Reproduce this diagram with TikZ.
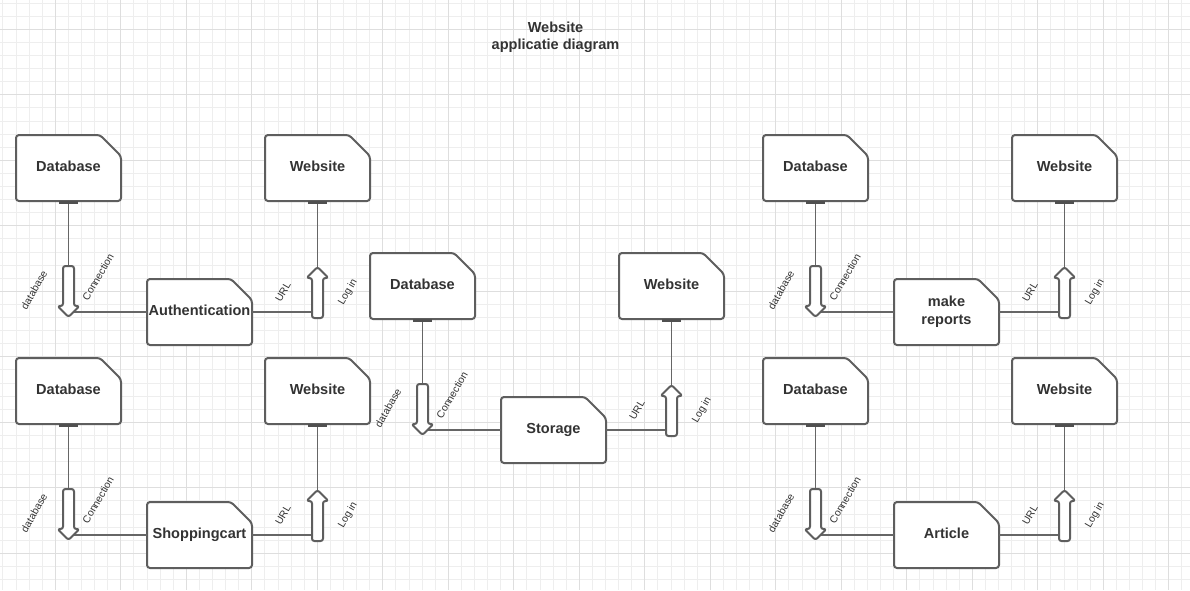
\documentclass[tikz,border=0pt]{standalone}
\usepackage{fontspec}
\setmainfont{Liberation Sans}
\definecolor{txt}{HTML}{333333}
\definecolor{bord}{HTML}{5E5E5E}
\definecolor{lin}{HTML}{666666}
\definecolor{gminor}{HTML}{EEEEEE}
\definecolor{gmajor}{HTML}{DEDEDE}
\tikzset{
  gridminor/.style={draw=gminor,line width=0.75pt},
  gridmajor/.style={draw=gmajor,line width=0.75pt},
  cardline/.style={draw=bord,fill=white,line width=1.5pt,rounded corners=2.25pt,line join=round},
  cardtext/.style={inner sep=0pt,minimum width=78.75pt,minimum height=49.5pt,align=center,text=txt,
    font=\fontsize{10.9}{13.2}\selectfont\bfseries},
  conn/.style={draw=lin,line width=1.1pt},
  stub/.style={draw=bord!85!black,line width=2pt},
  barrow/.style={draw=bord,fill=white,line width=1.5pt,rounded corners=1.8pt,line join=round},
  lbl/.style={inner sep=0pt,rotate=60,text=txt,font=\fontsize{7.7}{9}\selectfont},
  ttl/.style={align=center,text=txt,font=\fontsize{10.9}{12.75}\selectfont\bfseries}
}
\newcommand\card[4]{%
  \draw[cardline,shift={(#2,#3)}] (-52.5,33) -- (-52.5,-33) -- (31.5,-33) -- (52.5,-12) -- (52.5,33) -- cycle;
  \node[cardtext] (#1) at (#2,#3) {\raisebox{1.5pt}{\begin{tabular}{@{}c@{}}#4\end{tabular}}};}
\newcommand\diagblock[4]{%
\begin{scope}[shift={(#2,#3)}]
  \card{#1db}{68.5}{168}{Database}
  \card{#1ws}{317.5}{168}{Website}
  \card{#1mid}{199.5}{312}{#4}
  \coordinate (#1dtail) at (68.5,266);
  \coordinate (#1dtip) at (68.5,317);
  \coordinate (#1utail) at (317.5,318);
  \coordinate (#1utip) at (317.5,267);
  \draw[conn] (#1db.south) -- (#1dtail);
  \draw[conn] (#1ws.south) -- (#1utip);
  \draw[conn] (#1mid.west) -- (#1mid.west -| #1dtip);
  \draw[conn] (#1mid.east) -- (#1mid.east -| #1utip);
  \draw[stub] ([xshift=-7pt,yshift=-1pt]#1db.south) -- ([xshift=7pt,yshift=-1pt]#1db.south);
  \draw[stub] ([xshift=-7pt,yshift=-1pt]#1ws.south) -- ([xshift=7pt,yshift=-1pt]#1ws.south);
  \begin{scope}[shift={(#1dtip)}]
    \draw[barrow] (0,0) -- (11,-11) -- (5.5,-11) -- (5.5,-51) -- (-5.5,-51) -- (-5.5,-11) -- (-11,-11) -- cycle;
  \end{scope}
  \begin{scope}[shift={(#1utip)}]
    \draw[barrow] (0,0) -- (11,11) -- (5.5,11) -- (5.5,51) -- (-5.5,51) -- (-5.5,11) -- (-11,11) -- cycle;
  \end{scope}
  \node[lbl] (#1l1) at (34,290) {database};
  \node[lbl] (#1l2) at (98,277) {Connection};
  \node[lbl] (#1l3) at (283,292) {URL};
  \node[lbl] (#1l4) at (348,292) {Log in};
\end{scope}}
\begin{document}
\begin{tikzpicture}[x=0.75pt,y=-0.75pt]
\useasboundingbox (0,0) rectangle (1190,590);
\fill[white] (0,0) rectangle (1190,590);
\foreach \i in {0,...,90} {\draw[gridminor] ({2.9+13.1*\i},0) -- ({2.9+13.1*\i},590);}
\foreach \j in {0,...,44} {\draw[gridminor] (0,{3.1+13.1*\j}) -- (1190,{3.1+13.1*\j});}
\foreach \i in {0,...,17} {\draw[gridmajor] ({55.3+65.5*\i},0) -- ({55.3+65.5*\i},590);}
\foreach \j in {0,...,8} {\draw[gridmajor] (0,{29.3+65.5*\j}) -- (1190,{29.3+65.5*\j});}
\node[ttl] (title) at (555.5,37) {Website\\applicatie diagram};
\diagblock{a}{0}{0}{Authentication}
\diagblock{b}{0}{223}{Shoppingcart}
\diagblock{c}{354}{118}{Storage}
\diagblock{d}{747}{0}{make\\reports}
\diagblock{e}{747}{223}{Article}
\end{tikzpicture}
\end{document}
